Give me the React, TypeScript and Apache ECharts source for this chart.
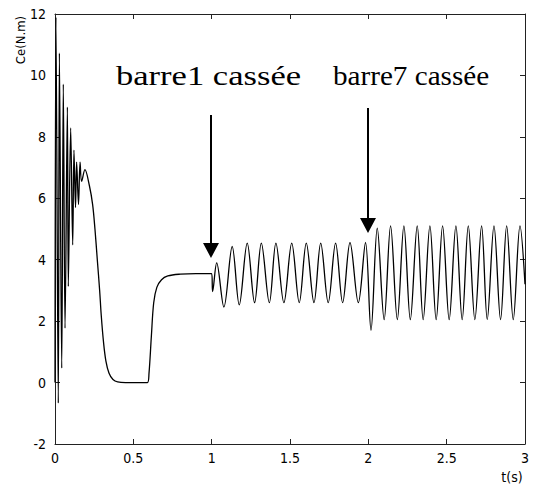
import React, { useEffect, useRef } from "react";
import * as echarts from "echarts";

// time (s) of each read turning point
const times: number[] = [
  0, 0.006, 0.021, 0.028, 0.043, 0.053, 0.064, 0.079, 0.085, 0.1, 0.113, 0.121, 0.131, 0.138, 0.15, 0.16, 0.17, 0.191,
  0.22, 0.24, 0.255, 0.27, 0.285, 0.295, 0.31, 0.325, 0.345, 0.37, 0.4, 0.45, 0.59, 0.6, 0.615, 0.63, 0.65, 0.68, 0.72, 0.8, 0.9, 1.0,
  1.006, 1.032, 1.078, 1.131, 1.176, 1.227, 1.274, 1.317, 1.368, 1.41, 1.461, 1.511, 1.559, 1.604, 1.653, 1.696, 1.744, 1.791, 1.836, 1.883, 1.936, 1.982,
  2.017, 2.057, 2.101, 2.142, 2.185, 2.227, 2.268, 2.312, 2.35, 2.393, 2.433, 2.474, 2.516, 2.559, 2.599, 2.638, 2.68, 2.723, 2.759, 2.802, 2.844, 2.883, 2.925, 2.968, 3.0,
];
// torque Ce (N.m) at each time
const torque: number[] = [
  0, 11.9, -0.67, 10.73, 0.47, 9.72, 1.77, 8.97, 3.13, 8.29, 4.48, 7.57, 5.7, 7.18, 5.8, 7.18, 6.55, 6.93,
  6.4, 5.8, 5.0, 4.0, 3.0, 2.2, 1.3, 0.7, 0.3, 0.1, 0.02, 0, 0, 0.3, 1.5, 2.6, 3.1, 3.35, 3.47, 3.53, 3.55, 3.55,
  2.96, 3.9, 2.46, 4.43, 2.53, 4.54, 2.6, 4.54, 2.6, 4.54, 2.6, 4.54, 2.6, 4.54, 2.6, 4.54, 2.6, 4.54, 2.6, 4.56, 2.6, 4.56,
  1.7, 5.03, 2.05, 5.1, 2.05, 5.1, 2.05, 5.1, 2.05, 5.1, 2.05, 5.1, 2.05, 5.1, 2.05, 5.1, 2.05, 5.1, 2.05, 5.1, 2.05, 5.1, 2.05, 5.1, 3.2,
];

const xTicks = { min: 0, max: 3, interval: 0.5 };
const yTicks = { min: -2, max: 12, interval: 2 };
const yName = "Ce(N.m)";
const xName = "t(s)";
const notes = ["barre1 cassée", "barre7 cassée"];

const labelFont = '"Liberation Sans Narrow", "DejaVu Sans Condensed", "Liberation Sans", Arial, sans-serif';
const serif = '"Liberation Serif", "Times New Roman", serif';

export default function App() {
  const ref = useRef<HTMLDivElement>(null);
  useEffect(() => {
    if (!ref.current) return;
    const chart = echarts.init(ref.current, null, { renderer: "svg" });
    const axisLine = { show: true, onZero: false, lineStyle: { color: "#222", width: 1 } };
    const tick = { show: true, inside: true, length: 5, lineStyle: { color: "#222" } };
    const label = { color: "#000", fontSize: 14, fontFamily: labelFont };
    chart.setOption({
      animation: false,
      backgroundColor: "#fff",
      grid: { left: 55, top: 14, width: 470, height: 430, containLabel: false },
      xAxis: [
        { type: "value", ...xTicks, axisLine, axisTick: tick, splitLine: { show: false },
          axisLabel: { ...label, margin: 7, formatter: (v: number) => String(v) } },
        { type: "value", position: "top", ...xTicks, axisLine, axisTick: tick, splitLine: { show: false }, axisLabel: { show: false } },
      ],
      yAxis: [
        { type: "value", ...yTicks, axisLine, axisTick: tick, splitLine: { show: false },
          axisLabel: { ...label, margin: 9 } },
        { type: "value", position: "right", ...yTicks, axisLine, axisTick: tick, splitLine: { show: false }, axisLabel: { show: false } },
      ],
      series: [
        {
          type: "line",
          xAxisIndex: 0,
          yAxisIndex: 0,
          data: times.map((t, i) => [t, torque[i]]),
          showSymbol: false,
          symbol: "none",
          smooth: 0.35,
          lineStyle: { color: "#000", width: 1.3 },
        },
      ],
      graphic: [
        { type: "text", x: 20, y: 40, rotation: Math.PI / 2,
          style: { text: yName, fontSize: 13, fontFamily: labelFont, fill: "#000", align: "center", verticalAlign: "middle" } },
        { type: "text", x: 512, y: 477,
          style: { text: xName, fontSize: 14, fontFamily: labelFont, fill: "#000", align: "center", verticalAlign: "middle" } },
        { type: "text", x: 116, y: 76, scaleX: 1.28,
          style: { text: notes[0], fontSize: 27, fontFamily: serif, fill: "#000", align: "left", verticalAlign: "middle" } },
        { type: "text", x: 333, y: 76, scaleX: 1.08,
          style: { text: notes[1], fontSize: 27, fontFamily: serif, fill: "#000", align: "left", verticalAlign: "middle" } },
        { type: "line", shape: { x1: 211, y1: 115, x2: 211, y2: 244 }, style: { stroke: "#000", lineWidth: 2 } },
        { type: "polygon", shape: { points: [[203, 243], [219, 243], [211, 258]] }, style: { fill: "#000" } },
        { type: "line", shape: { x1: 368, y1: 108, x2: 368, y2: 219 }, style: { stroke: "#000", lineWidth: 2 } },
        { type: "polygon", shape: { points: [[360, 218], [376, 218], [368, 233]] }, style: { fill: "#000" } },
      ],
    });
    return () => chart.dispose();
  }, []);
  return <div ref={ref} style={{ position: "fixed", left: 0, top: 0, width: 538, height: 491, background: "#fff" }} />;
}
